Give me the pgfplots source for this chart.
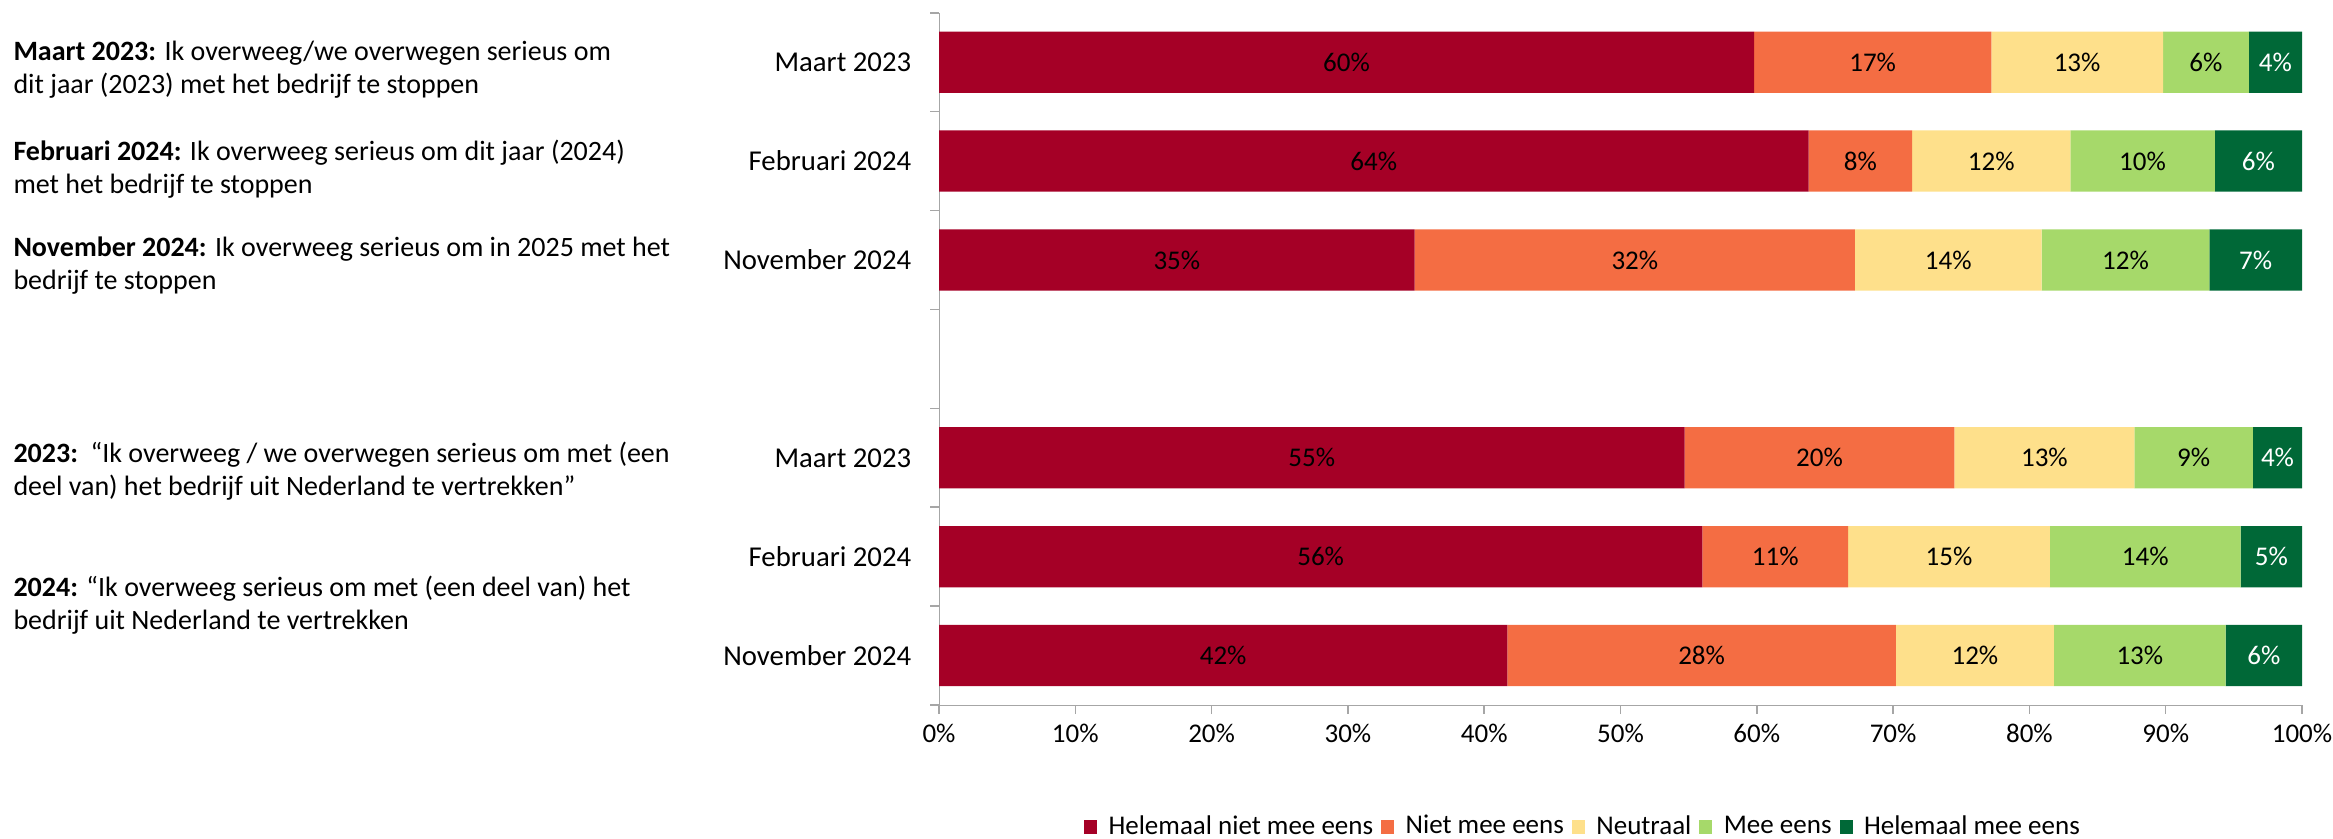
\documentclass[border=0pt]{standalone}
\usepackage{pgfplots}
\pgfplotsset{compat=1.18}
\usepackage{pgfplotstable}
\usepackage{fontspec}
\setmainfont{Carlito}
\definecolor{c1}{HTML}{A50026}
\definecolor{c2}{HTML}{F46D43}
\definecolor{c3}{HTML}{FEE08B}
\definecolor{c4}{HTML}{A6D96A}
\definecolor{c5}{HTML}{006837}
\definecolor{axgray}{HTML}{A6A6A6}
\pgfplotstableread{
y a b c d e la lb lc ld le
1 59.8 17.4 12.6 6.3 3.9 60 17 13 6 4
2 63.8 7.6 11.6 10.6 6.4 64 8 12 10 6
3 34.9 32.3 13.7 12.3 6.8 35 32 14 12 7
5 54.7 19.8 13.2 8.7 3.6 55 20 13 9 4
6 56.0 10.7 14.8 14.0 4.5 56 11 15 14 5
7 41.7 28.5 11.6 12.6 5.6 42 28 12 13 6
}\data
\newcommand\lblfont{\fontsize{10.8}{13}\selectfont}
\newcommand\txtfont{\fontsize{11.2}{13.2}\selectfont}
\begin{document}
\fontsize{11.5}{13.2}\selectfont
\begin{tikzpicture}
\path[use as bounding box] (0,0) rectangle (933.2pt,335.2pt);
\begin{axis}[
  at={(375.6pt,53.2pt)}, anchor=south west,
  scale only axis, width=545.2pt, height=276.9pt,
  xbar stacked, bar width=24.5pt,
  xmin=0, xmax=100, ymin=0.5, ymax=7.5, y dir=reverse,
  axis x line*=bottom, axis y line*=left,
  axis line style={draw=axgray},
  tick style={draw=axgray, line width=0.6pt},
  tick align=outside, major tick length=3.6pt,
  xtick={0,10,...,100},
  xticklabel={\pgfmathprintnumber{\tick}\%},
  xticklabel style={font=\lblfont},
  /pgf/number format/assume math mode=true,
  ytick={0.5,1.5,...,7.5}, yticklabels={},
  extra y ticks={1,2,3,5,6,7},
  extra y tick labels={Maart 2023,Februari 2024,November 2024,Maart 2023,Februari 2024,November 2024},
  extra y tick style={tick style={draw=none}, yticklabel style={xshift=-3.5pt}},
  legend style={at={(0.4717,-0.176)}, anchor=center, draw=none, legend columns=5,
    font=\lblfont,
    /tikz/every even column/.append style={column sep=3.2pt},
    /tikz/every odd column/.append style={column sep=4.6pt},
    nodes={inner sep=0pt}},
  legend image code/.code={\fill[#1] (0pt,-2.8pt) rectangle (5.2pt,2.8pt);},
  nodes near coords={\pgfplotspointmeta\%},
  nodes near coords style={font=\lblfont, anchor=center},
  point meta=explicit symbolic,
]
\addplot[fill=c1, draw=none, every node near coord/.append style={text=black}]
  table[x=a, y=y, meta=la] {\data};
\addplot[fill=c2, draw=none, every node near coord/.append style={text=black}]
  table[x=b, y=y, meta=lb] {\data};
\addplot[fill=c3, draw=none, every node near coord/.append style={text=black}]
  table[x=c, y=y, meta=lc] {\data};
\addplot[fill=c4, draw=none, every node near coord/.append style={text=black}]
  table[x=d, y=y, meta=ld] {\data};
\addplot[fill=c5, draw=none, every node near coord/.append style={text=white}]
  table[x=e, y=y, meta=le] {\data};
\legend{Helemaal niet mee eens, Niet mee eens, Neutraal, Mee eens, Helemaal mee eens}
\end{axis}
\begin{scope}[every node/.style={anchor=west, align=left, inner sep=0pt, font=\txtfont}]
\node at (5.2pt,307.4pt)
  {\textbf{Maart 2023:} Ik overweeg/we overwegen serieus om\\dit jaar (2023) met het bedrijf te stoppen};
\node at (5.2pt,267.4pt)
  {\textbf{Februari 2024:} Ik overweeg serieus om dit jaar (2024)\\met het bedrijf te stoppen};
\node at (5.2pt,228.8pt)
  {\textbf{November 2024:} Ik overweeg serieus om in 2025 met het\\bedrijf te stoppen};
\node at (5.2pt,146.6pt)
  {\textbf{2023:}\ \ “Ik overweeg / we overwegen serieus om met (een\\deel van) het bedrijf uit Nederland te vertrekken”};
\node at (5.2pt,93.0pt)
  {\textbf{2024:} “Ik overweeg serieus om met (een deel van) het\\bedrijf uit Nederland te vertrekken};
\end{scope}
\end{tikzpicture}
\end{document}
